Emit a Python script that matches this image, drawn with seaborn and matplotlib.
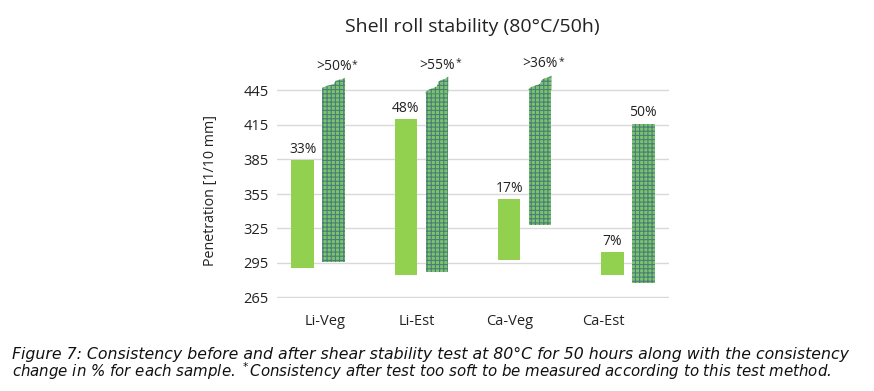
import matplotlib
matplotlib.use("Agg")
import matplotlib.pyplot as plt
import seaborn as sns
import pandas as pd
import numpy as np
from matplotlib.patches import Polygon

# ---- data ----
samples = ["Li-Veg", "Li-Est", "Ca-Veg", "Ca-Est"]
before_low = [291, 285, 298, 285]
before_high = [385, 420, 351, 305]
after_low = [296, 287, 328, 278]
after_high = [447, 443, 446, 416]
soft_peak = [456, 457, 458, None]          # jagged top for too-soft samples
change_before = ["33%", "48%", "17%", "7%"]
change_after = [">50%", ">55%", ">36%", "50%"]
too_soft = [True, True, True, False]
yticks = [265, 295, 325, 355, 385, 415, 445]

GREEN = "#92D050"
CHECK_LIGHT = "#7cc46a"
CHECK_DARK = "#4a7e7a"

sns.set_theme(style="white")
plt.rcParams["font.family"] = ["Open Sans", "DejaVu Sans"]
plt.rcParams["hatch.linewidth"] = 0.8

df = pd.DataFrame({
    "sample": samples * 2,
    "state": ["before"] * 4 + ["after"] * 4,
    "low": before_low + after_low,
    "high": before_high + after_high,
})
df["height"] = df["high"] - df["low"]

fig = plt.figure(figsize=(8.74, 3.91), dpi=100)
ax = fig.add_axes([277 / 874, 1 - 297.5 / 391, 392 / 874, 241.5 / 391])

sns.barplot(data=df, x="sample", y="height", hue="state",
            hue_order=["before", "after"],
            palette={"before": GREEN, "after": CHECK_LIGHT}, saturation=1,
            width=0.6, gap=0.27, errorbar=None, legend=False,
            linewidth=0, ax=ax, zorder=3)

cont_before, cont_after = ax.containers[0], ax.containers[1]
for bar, lo in zip(cont_before, before_low):
    bar.set_y(lo)
for bar, lo in zip(cont_after, after_low):
    bar.set_y(lo)
    bar.set_hatch("++++")
    bar.set_edgecolor(CHECK_DARK)
    bar.set_linewidth(0)

# jagged caps for too-soft samples
prof_x = [0.0, 0.0, 0.15, 0.35, 0.5, 0.58, 0.7, 0.85, 1.0, 1.0]
prof_f = [0.0, 0.05, 0.2, 0.3, 0.4, 0.7, 0.8, 0.85, 1.0, 0.0]
for bar, soft, peak, hi in zip(cont_after, too_soft, soft_peak, after_high):
    if not soft:
        continue
    x0, w = bar.get_x(), bar.get_width()
    pts = [(x0 + px * w, hi + pf * (peak - hi)) for px, pf in zip(prof_x, prof_f)]
    pts[-1] = (x0 + w, hi - 0.5)
    pts.insert(0, (x0, hi - 0.5))
    cap = Polygon(pts, closed=True, facecolor=CHECK_LIGHT, edgecolor=CHECK_DARK,
                  hatch="++++", linewidth=0, zorder=3)
    ax.add_patch(cap)

# percentage labels
for bar, lab in zip(cont_before, change_before):
    ax.annotate(lab, xy=(bar.get_x() + bar.get_width() / 2, bar.get_y() + bar.get_height()),
                xytext=(0, 2), textcoords="offset points", ha="center", va="bottom",
                fontsize=10, color="#222222")
for bar, lab, soft, peak in zip(cont_after, change_after, too_soft, soft_peak):
    top = peak if soft else bar.get_y() + bar.get_height()
    t = ax.annotate(lab, xy=(bar.get_x() + bar.get_width() / 2, top),
                    xytext=(0, 3), textcoords="offset points", ha="center", va="bottom",
                    fontsize=10, color="#222222")
    if soft:
        ax.annotate("*", xy=(1.0, 1.0), xycoords=t, xytext=(0.3, 0),
                    textcoords="offset points", ha="left", va="top",
                    fontsize=7.5, color="#222222")

ax.set_ylim(265, 475)
ax.set_xlim(-0.4, 3.4)
ax.set_yticks(yticks)
ax.set_yticklabels([str(v) for v in yticks])
# category labels sit slightly left of the bar groups in the reference layout
ax.set_xticks([0.07, 0.96, 1.86, 2.76])
ax.set_xticklabels(samples)
ax.yaxis.grid(True, color="#d9d9d9", linewidth=1.0, zorder=0)
ax.set_axisbelow(True)
for s in ax.spines.values():
    s.set_visible(False)
ax.tick_params(axis="y", length=0, pad=6, labelsize=10.5, labelcolor="#222222")
ax.tick_params(axis="x", length=0, pad=12, labelsize=10.5, labelcolor="#222222")
ax.set_xlabel("")
ax.set_ylabel("Penetration [1/10 mm]", fontsize=10.3, color="#222222")
ax.yaxis.set_label_coords((218 - 277) / 392, (297.5 - 191) / 241.5)

fig.text(472 / 874, 1 - 27 / 391, "Shell roll stability (80°C/50h)",
         ha="center", va="center", fontsize=14, color="#222222")

cap_kw = dict(ha="left", va="baseline", style="italic",
              family="DejaVu Sans", color="#111111")
fig.text(12 / 874, 1 - 358.5 / 391,
         "Figure 7: Consistency before and after shear stability test at 80°C for 50 hours along with the consistency",
         fontsize=11.3, **cap_kw)
fig.text(12 / 874, 1 - 377.5 / 391,
         "change in % for each sample. $^*$Consistency after test too soft to be measured according to this test method.",
         fontsize=10.8, **cap_kw)

fig.savefig("out.png", dpi=100)
